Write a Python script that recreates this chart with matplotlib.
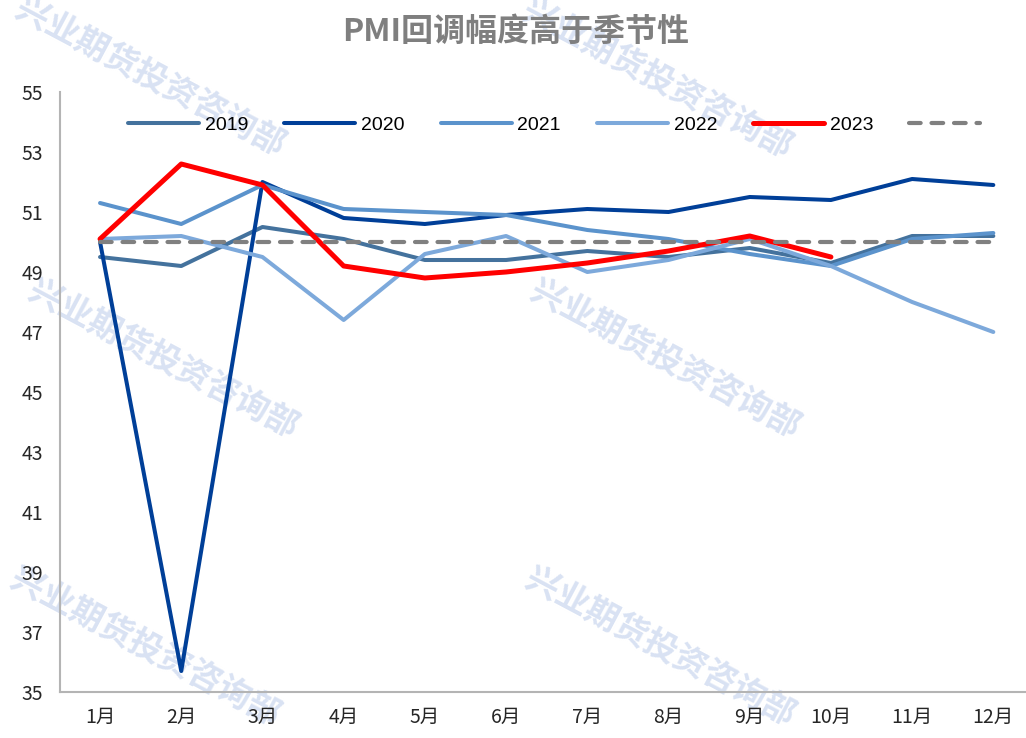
import matplotlib
import matplotlib.pyplot as plt

matplotlib.use('Agg')

plt.rcParams['font.family'] = ['Noto Sans CJK SC', 'DejaVu Sans']

months = ['1月', '2月', '3月', '4月', '5月', '6月', '7月', '8月', '9月', '10月', '11月', '12月']
pmi_2019 = [49.5, 49.2, 50.5, 50.1, 49.4, 49.4, 49.7, 49.5, 49.8, 49.3, 50.2, 50.2]
pmi_2020 = [50.0, 35.7, 52.0, 50.8, 50.6, 50.9, 51.1, 51.0, 51.5, 51.4, 52.1, 51.9]
pmi_2021 = [51.3, 50.6, 51.9, 51.1, 51.0, 50.9, 50.4, 50.1, 49.6, 49.2, 50.1, 50.3]
pmi_2022 = [50.1, 50.2, 49.5, 47.4, 49.6, 50.2, 49.0, 49.4, 50.1, 49.2, 48.0, 47.0]
pmi_2023 = [50.1, 52.6, 51.9, 49.2, 48.8, 49.0, 49.3, 49.7, 50.2, 49.5]
baseline = [50] * 12

series = [
    ('2019', pmi_2019, '#44729D', 2.9),
    ('2020', pmi_2020, '#003F98', 2.9),
    ('2021', pmi_2021, '#5B93CC', 2.9),
    ('2022', pmi_2022, '#7DA9DB', 2.9),
    ('2023', pmi_2023, '#FF0000', 3.6),
]

fig = plt.figure(figsize=(10.26, 7.38), dpi=100)
fig.patch.set_facecolor('white')
ax = fig.add_axes([60 / 1026, 46 / 738, 965 / 1026, 600 / 738])
ax.set_facecolor('none')

x = list(range(12))
handles = []
labels = []
for name, vals, color, lw in series:
    ln, = ax.plot(x[:len(vals)], vals, color=color, lw=lw,
                  solid_capstyle='round', solid_joinstyle='round')
    handles.append(ln)
    labels.append(name)

# seasonal reference line at 50
dash, = ax.plot(x, baseline, color='#808080', lw=3.0, dashes=(2.8, 2.6),
                dash_capstyle='round')
handles.append(dash)
labels.append(' ')

ax.set_xlim(-0.493, 11.39)
ax.set_ylim(35, 55)
ax.set_yticks(range(35, 56, 2))
ax.set_xticks(x)
ax.set_xticklabels(months)
ax.tick_params(axis='both', length=0, labelsize=14, colors='#262626')
ax.tick_params(axis='y', pad=12)
ax.tick_params(axis='x', pad=11)

for side in ['top', 'right']:
    ax.spines[side].set_visible(False)
for side in ['left', 'bottom']:
    ax.spines[side].set_color('#B4B4B4')
    ax.spines[side].set_linewidth(1.5)

ax.legend(handles, labels, ncol=6, frameon=False, loc='center',
          bbox_to_anchor=(0.518, 0.945), handlelength=3.65,
          handletextpad=0.3, columnspacing=1.85,
          prop={'family': ['Liberation Sans', 'DejaVu Sans'], 'size': 14})

fig.text(0.503, 0.957, 'PMI回调幅度高于季节性', ha='center', va='center',
         fontsize=23, fontweight='bold', color='#7F7F7F')

# watermark
for cx, cy in [(150, 78), (657, 80), (163, 360), (665, 360), (145, 648), (660, 648)]:
    fig.text(cx / 1026, 1 - cy / 738, '兴业期货投资咨询部', ha='center', va='center',
             rotation=-28, rotation_mode='anchor', fontsize=24, fontweight='bold',
             color='#D9E2F3', zorder=-1)

fig.savefig('out.png', dpi=100)
